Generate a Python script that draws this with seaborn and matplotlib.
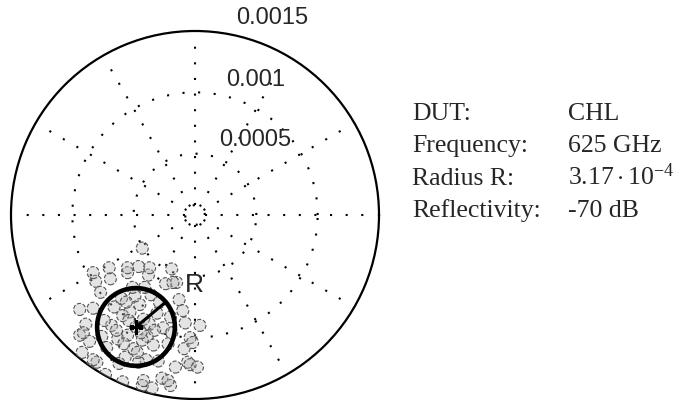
import numpy as np
import matplotlib
matplotlib.use("Agg")
import matplotlib.pyplot as plt
import seaborn as sns
import pandas as pd

# ---- data: measured reflection values (real / imaginary parts, units of 1e-4) ----
re_vals = [-4.8, -4.2, -5.5, -3.9, -5.9, -4.5, -6.3, -3.1, -5.0, -3.4, -6.8, -2.6, -4.9, -5.7,
           -4.0, -6.6, -2.9, -7.2, -2.2, -5.3, -4.3, -3.6, -6.0, -7.4, -2.0, -4.6, -6.2, -3.0,
           -5.1, -7.6, -1.9, -4.1, -5.8, -3.7, -5.4, -4.4, -6.4, -3.3, -4.7, -5.6,
           -8.3, -8.6, -8.0, -7.7, -6.9, -5.5, -3.8, -2.4, -1.3, -0.8, -0.9, -1.6, -2.7, -4.3,
           -5.9, -7.3, -8.9, -9.2, -1.0, -0.4, -6.6, -3.5, -8.1, -1.9, -9.4, -0.6, -7.0, -4.6,
           -2.0, -8.7,
           -8.3, -1.5, -4.2, -2.2, -0.2, -0.4, -4.3, -5.5, -3.7, -1.8, 0.4, 0.2, -9.4, -9.1, -8.3]
im_vals = [-9.1, -8.5, -9.8, -9.9, -8.2, -7.3, -10.1, -8.0, -10.9, -10.6, -9.0, -9.2, -6.6, -11.6,
           -11.8, -7.5, -7.1, -10.8, -10.5, -7.9, -10.2, -6.5, -6.8, -8.6, -8.3, -12.0, -12.1, -11.9,
           -5.9, -9.9, -9.6, -5.9, -10.5, -8.9, -8.6, -9.6, -9.4, -9.4, -11.2, -7.1,
           -7.6, -10.3, -12.0, -6.3, -5.2, -4.7, -4.9, -5.6, -6.9, -8.8, -10.9, -12.4, -13.3, -13.9,
           -13.6, -13.0, -8.9, -11.2, -7.8, -10.0, -14.3, -14.1, -5.4, -4.4, -9.8, -12.0, -4.3, -4.2,
           -13.9, -12.6,
           -4.7, -5.5, -13.5, -13.5, -10.4, -12.2, -2.7, -4.3, -4.3, -5.5, -9.0, -12.4, -7.7, -9.6, -11.8]
center_re = -4.81          # mean value, units of 1e-4
center_im = -9.13
radius_R = 3.17e-4
r_max = 0.0015
ring_values = [0.00008, 0.0005, 0.001]
r_tick_values = [0.0005, 0.001, 0.0015]
r_tick_labels = ["0.0005", "0.001", "0.0015"]
spoke_angles_deg = list(range(0, 360, 30))
info_keys = ["DUT:", "Frequency:", "Radius R:", "Reflectivity:"]
info_vals = ["CHL", "625 GHz", r"$3.17\cdot10^{-4}$", "-70 dB"]

sns.set_theme(style="white")
plt.rcParams["font.family"] = ["Liberation Sans", "DejaVu Sans"]
plt.rcParams["mathtext.fontset"] = "custom"
plt.rcParams["mathtext.rm"] = "Liberation Serif"
plt.rcParams["mathtext.it"] = "Liberation Serif:italic"

fig = plt.figure(figsize=(6.85, 4.0), dpi=100)
ax = fig.add_axes([11 / 685, 1 / 400, 368 / 685, 368 / 400], projection="polar")
ax.set_ylim(0, r_max)
ax.grid(False)
ax.spines["polar"].set_linewidth(1.6)
ax.spines["polar"].set_color("black")

# dotted grid rings and spokes
t = np.linspace(0, 2 * np.pi, 400)
dot = (0, (1, 6.5))
for rv in ring_values:
    ax.plot(t, np.full_like(t, rv), color="black", lw=1.5, ls=dot)
for a in spoke_angles_deg:
    ax.plot([np.deg2rad(a)] * 2, [ring_values[0], 0.00144], color="black", lw=1.5, ls=dot)

# measured points
x = np.array(re_vals) * 1e-4
y = np.array(im_vals) * 1e-4
df = pd.DataFrame({"theta": np.arctan2(y, x), "r": np.hypot(x, y)})
sns.scatterplot(data=df, x="theta", y="r", ax=ax, marker="o", s=75,
                facecolor=(0.7, 0.7, 0.7, 0.35), edgecolor="#555555",
                linewidth=0.8, linestyle="--", legend=False, zorder=3)
ax.set_xlabel("")
ax.set_ylabel("")
ax.set_xticks([])
ax.set_yticks([])

# radius circle around mean
cx, cy = center_re * 1e-4, center_im * 1e-4
px = cx + radius_R * np.cos(t)
py = cy + radius_R * np.sin(t)
ax.plot(np.arctan2(py, px), np.hypot(px, py), color="black", lw=3.3, zorder=5)
ang = np.deg2rad(40)
ex, ey = cx + radius_R * np.cos(ang), cy + radius_R * np.sin(ang)
ax.plot([np.arctan2(cy, cx), np.arctan2(ey, ex)], [np.hypot(cx, cy), np.hypot(ex, ey)],
        color="black", lw=2.2, zorder=5)
ax.plot(np.arctan2(cy, cx), np.hypot(cx, cy), marker="+", color="black", ms=10, mew=2.2, zorder=6)

# helper: place text at pixel offset from the polar centre
scale = r_max / 184.0
def ptxt(dx, dy, s, size=17):
    ax.text(np.arctan2(dy, dx), np.hypot(dx, dy) * scale, s, ha="center", va="center",
            fontsize=size, clip_on=False)

label_offsets = [(60, 75), (61, 135), (77, 197)]
for (dx, dy), lab in zip(label_offsets, r_tick_labels):
    ptxt(dx, dy, lab)
ptxt(-1, -70, "R", size=19)

# info block
serif = ["Liberation Serif", "DejaVu Serif"]
baselines = [120, 152, 185, 217]
for k, v, b in zip(info_keys, info_vals, baselines):
    fig.text(412 / 685, 1 - b / 400, k, family=serif, fontsize=18.5, va="baseline", ha="left")
    fig.text(568 / 685, 1 - b / 400, v, family=serif, fontsize=18.5, va="baseline", ha="left")

fig.savefig("out.png", dpi=100)
